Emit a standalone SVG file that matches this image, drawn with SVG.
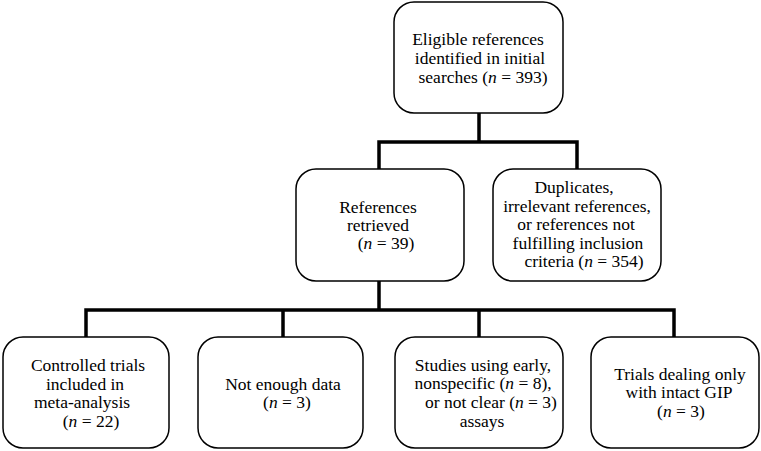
<svg xmlns="http://www.w3.org/2000/svg" width="761" height="451" viewBox="0 0 761 451">
<style>
.box{fill:#fff;stroke:#000;stroke-width:1.5}
.conn{fill:none;stroke:#000;stroke-width:3.5;stroke-linecap:square}
.t{font-family:'Liberation Serif','DejaVu Serif',serif;font-size:17.5px;fill:#000;text-anchor:middle}
.i{font-style:italic}
</style>
<rect width="761" height="451" fill="#fff"/>
<g id="connectors">
<path class="conn" d="M479 113V142M379 142H577M379 142V169M577 142V169"/>
<path class="conn" d="M379 281V310M86 310H674M86 310V337M283 310V337M479 310V337M674 310V337"/>
</g>
<g id="n-eligible" class="t">
<rect class="box" x="394" y="2" width="169" height="111" rx="20"/>
<text x="478" y="45">Eligible references</text>
<text x="480" y="64">identified in initial</text>
<text x="483" y="83">searches (<tspan class="i">n</tspan> = 393)</text>
</g>
<g id="n-retrieved" class="t">
<rect class="box" x="296" y="169" width="168" height="112" rx="20"/>
<text x="378" y="213">References</text>
<text x="378" y="231">retrieved</text>
<text x="386" y="249">(<tspan class="i">n</tspan> = 39)</text>
</g>
<g id="n-duplicates" class="t">
<rect class="box" x="493" y="169" width="168" height="112" rx="20"/>
<text x="574" y="193">Duplicates,</text>
<text x="577" y="212">irrelevant references,</text>
<text x="576" y="230">or references not</text>
<text x="578" y="249">fulfilling inclusion</text>
<text x="584" y="267">criteria (<tspan class="i">n</tspan> = 354)</text>
</g>
<g id="n-controlled" class="t">
<rect class="box" x="3" y="337" width="166" height="111" rx="20"/>
<text x="88" y="371">Controlled trials</text>
<text x="85" y="390">included in</text>
<text x="82" y="408">meta-analysis</text>
<text x="91" y="427">(<tspan class="i">n</tspan> = 22)</text>
</g>
<g id="n-notenough" class="t">
<rect class="box" x="198" y="337" width="165" height="111" rx="20"/>
<text x="283" y="390">Not enough data</text>
<text x="287" y="408">(<tspan class="i">n</tspan> = 3)</text>
</g>
<g id="n-studies" class="t">
<rect class="box" x="395" y="337" width="168" height="111" rx="20"/>
<text x="483" y="371">Studies using early,</text>
<text x="483" y="389">nonspecific (<tspan class="i">n</tspan> = 8),</text>
<text x="491" y="408">or not clear (<tspan class="i">n</tspan> = 3)</text>
<text x="482" y="427">assays</text>
</g>
<g id="n-trials" class="t">
<rect class="box" x="591" y="337" width="168" height="111" rx="20"/>
<text x="680" y="380">Trials dealing only</text>
<text x="679" y="398">with intact GIP</text>
<text x="681" y="417">(<tspan class="i">n</tspan> = 3)</text>
</g>
</svg>
